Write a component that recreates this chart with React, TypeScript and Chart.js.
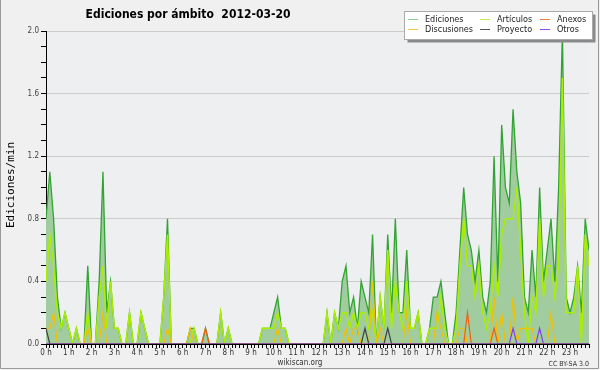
import React, { useEffect, useRef } from 'react';
import { Chart, registerables } from 'chart.js';

Chart.register(...registerables);

// ---- data (10-minute slots, 6 per hour, 144 per day) ----
const HOUR_LABELS = [
  '0 h', '1 h', '2 h', '3 h', '4 h', '5 h', '6 h', '7 h', '8 h', '9 h', '10 h', '11 h',
  '12 h', '13 h', '14 h', '15 h', '16 h', '17 h', '18 h', '19 h', '20 h', '21 h', '22 h', '23 h',
];
const Y_MAJOR = [0, 0.4, 0.8, 1.2, 1.6, 2.0];

const ediciones = [
  0.8, 1.1, 0.8, 0.3, 0.1, 0.2, // 0h
  0.1, 0, 0.1, 0, 0, 0.5, // 1h
  0, 0, 0.4, 1.1, 0.2, 0.4, // 2h
  0.1, 0.1, 0, 0, 0.2, 0, // 3h
  0, 0.2, 0.1, 0, 0, 0, // 4h
  0, 0.3, 0.8, 0, 0, 0, // 5h
  0, 0, 0.1, 0.1, 0, 0, // 6h
  0.1, 0, 0, 0, 0.2, 0, // 7h
  0.1, 0, 0, 0, 0, 0, // 8h
  0, 0, 0, 0.1, 0.1, 0.1, // 9h
  0.2, 0.3, 0.1, 0.1, 0, 0, // 10h
  0, 0, 0, 0, 0, 0, // 11h
  0, 0, 0.2, 0, 0.2, 0.1, // 12h
  0.4, 0.5, 0.2, 0.3, 0.1, 0.4, // 13h
  0.3, 0.2, 0.7, 0, 0.3, 0.1, // 14h
  0.7, 0.2, 0.8, 0.2, 0.2, 0.6, // 15h
  0.1, 0.1, 0.2, 0, 0, 0.1, // 16h
  0.3, 0.3, 0.4, 0.2, 0, 0, // 17h
  0.2, 0.6, 1.0, 0.7, 0.6, 0.4, // 18h
  0.6, 0.3, 0.2, 0.4, 1.2, 0.4, // 19h
  1.4, 1.0, 0.9, 1.5, 1.1, 0.9, // 20h
  0.3, 0.2, 0.6, 0.3, 1.0, 0.4, // 21h
  0.6, 0.8, 0.4, 1.0, 2.0, 0.3, // 22h
  0.2, 0.3, 0.5, 0.2, 0.8, 0.6, // 23h
];

const articulos = [
  0.4, 0.7, 0.5, 0.2, 0.1, 0.2,
  0.1, 0, 0.1, 0, 0, 0.2,
  0, 0, 0.3, 0.5, 0.1, 0.4,
  0.1, 0.1, 0, 0, 0.2, 0,
  0, 0.2, 0.1, 0, 0, 0,
  0, 0.3, 0.7, 0, 0, 0,
  0, 0, 0, 0.1, 0, 0,
  0, 0, 0, 0, 0.2, 0,
  0.1, 0, 0, 0, 0, 0,
  0, 0, 0, 0.1, 0.1, 0.1,
  0.1, 0.2, 0.1, 0.1, 0, 0,
  0, 0, 0, 0, 0, 0,
  0, 0, 0.2, 0, 0.2, 0.1,
  0.2, 0.2, 0.1, 0.2, 0.1, 0.2,
  0.2, 0.1, 0.2, 0, 0.3, 0.1,
  0.6, 0.1, 0.4, 0.2, 0.1, 0.4,
  0.1, 0.1, 0.2, 0, 0, 0.1,
  0.1, 0.1, 0.3, 0.1, 0, 0,
  0.1, 0.5, 0.8, 0.5, 0.5, 0.3,
  0.5, 0.2, 0.1, 0.2, 0.5, 0.3,
  0.7, 0.8, 0.8, 0.8, 1.0, 0.6,
  0.2, 0, 0.3, 0.2, 0.8, 0.3,
  0.5, 0.5, 0.3, 0.5, 1.7, 0.2,
  0.2, 0.2, 0.5, 0, 0.7, 0.5,
];

const discusiones = [
  0.1, 0.1, 0.2, 0, 0, 0,
  0, 0, 0, 0, 0, 0.1,
  0, 0, 0, 0.2, 0, 0,
  0, 0, 0, 0, 0, 0,
  0, 0, 0, 0, 0, 0,
  0, 0, 0.1, 0, 0, 0,
  0, 0, 0.1, 0, 0, 0,
  0, 0, 0, 0, 0, 0,
  0, 0, 0, 0, 0, 0,
  0, 0, 0, 0, 0, 0,
  0, 0.1, 0, 0, 0, 0,
  0, 0, 0, 0, 0, 0,
  0, 0, 0, 0, 0, 0,
  0, 0.1, 0, 0.1, 0.1, 0,
  0, 0, 0.4, 0, 0.1, 0,
  0, 0, 0, 0, 0, 0.2,
  0, 0, 0, 0, 0, 0,
  0, 0.2, 0.1, 0, 0, 0,
  0, 0.1, 0.1, 0, 0, 0,
  0, 0, 0, 0, 0.3, 0,
  0.2, 0, 0, 0.3, 0, 0.1,
  0.1, 0.1, 0.1, 0, 0, 0,
  0, 0.2, 0, 0, 0, 0,
  0, 0, 0, 0, 0, 0,
];

const proyecto = [
  0.1, 0, 0, 0, 0, 0,
  0, 0, 0, 0, 0, 0,
  0, 0, 0, 0, 0, 0,
  0, 0, 0, 0, 0, 0,
  0, 0, 0, 0, 0, 0,
  0, 0, 0, 0, 0, 0,
  0, 0, 0, 0, 0, 0,
  0, 0, 0, 0, 0, 0,
  0, 0, 0, 0, 0, 0,
  0, 0, 0, 0, 0, 0,
  0, 0, 0, 0, 0, 0,
  0, 0, 0, 0, 0, 0,
  0, 0, 0, 0, 0, 0,
  0, 0, 0, 0, 0, 0,
  0.1, 0, 0, 0, 0, 0,
  0.1, 0, 0, 0, 0, 0,
  0, 0, 0, 0, 0, 0,
  0, 0, 0, 0, 0, 0,
  0, 0, 0, 0, 0, 0,
  0, 0, 0, 0, 0, 0,
  0, 0, 0, 0, 0, 0,
  0, 0, 0, 0, 0, 0,
  0, 0, 0, 0, 0, 0,
  0, 0, 0, 0, 0, 0,
];

const anexos = [
  0, 0, 0, 0, 0, 0,
  0, 0, 0, 0, 0, 0,
  0, 0, 0, 0, 0, 0,
  0, 0, 0, 0, 0, 0,
  0, 0, 0, 0, 0, 0,
  0, 0, 0, 0, 0, 0,
  0, 0, 0, 0, 0, 0,
  0.1, 0, 0, 0, 0, 0,
  0, 0, 0, 0, 0, 0,
  0, 0, 0, 0, 0, 0,
  0, 0, 0, 0, 0, 0,
  0, 0, 0, 0, 0, 0,
  0, 0, 0, 0, 0, 0,
  0, 0, 0, 0, 0, 0,
  0, 0, 0, 0, 0, 0,
  0, 0, 0, 0, 0, 0,
  0, 0, 0, 0, 0, 0,
  0, 0, 0, 0, 0, 0,
  0, 0, 0, 0.2, 0, 0,
  0, 0, 0, 0, 0.1, 0,
  0, 0, 0, 0, 0, 0,
  0, 0, 0, 0, 0, 0,
  0, 0, 0, 0, 0, 0,
  0, 0, 0, 0, 0, 0,
];

const otros = [
  0, 0, 0, 0, 0, 0,
  0, 0, 0, 0, 0, 0,
  0, 0, 0, 0, 0, 0,
  0, 0, 0, 0, 0, 0,
  0, 0, 0, 0, 0, 0,
  0, 0, 0, 0, 0, 0,
  0, 0, 0, 0, 0, 0,
  0, 0, 0, 0, 0, 0,
  0, 0, 0, 0, 0, 0,
  0, 0, 0, 0, 0, 0,
  0, 0, 0, 0, 0, 0,
  0, 0, 0, 0, 0, 0,
  0, 0, 0, 0, 0, 0,
  0, 0, 0, 0, 0, 0,
  0, 0, 0, 0, 0, 0,
  0, 0, 0, 0, 0, 0,
  0, 0, 0, 0, 0, 0,
  0, 0, 0, 0, 0, 0,
  0, 0, 0, 0, 0, 0,
  0, 0, 0, 0, 0, 0,
  0, 0, 0, 0.1, 0, 0,
  0, 0, 0, 0, 0.1, 0,
  0, 0, 0, 0, 0, 0,
  0, 0, 0, 0, 0, 0,
];

const TITLE = 'Ediciones por ámbito  2012-03-20';
const Y_TITLE = 'Ediciones/min';
const FOOTER = 'wikiscan.org';
const LICENSE = 'CC BY-SA 3.0';

const C_EDIT_LINE = '#33a333';
const C_EDIT_FILL = '#a0cca0';
const C_ART = '#aaee00';
const C_DISC = '#f2c000';
const C_ANEX = '#f06010';
const C_PROY = '#404040';
const C_OTROS = '#8040f0';

const LEGEND = [
  { label: 'Ediciones', color: '#86cc86' },
  { label: 'Discusiones', color: '#f4cc40' },
  { label: 'Artículos', color: '#c4ee40' },
  { label: 'Proyecto', color: '#555555' },
  { label: 'Anexos', color: '#f08048' },
  { label: 'Otros', color: '#9050f0' },
];

const SANS = '"DejaVu Sans Condensed", "DejaVu Sans", sans-serif';

const isMajorY = (v: number) => Math.abs(v / 0.4 - Math.round(v / 0.4)) < 1e-6;
const toPoints = (arr: number[]) => arr.map((y, x) => ({ x, y }));

const decorPlugin = {
  id: 'decor',
  beforeDraw(chart: any) {
    const { ctx, chartArea } = chart;
    ctx.save();
    ctx.fillStyle = '#f0f0f0';
    ctx.fillRect(0, 0, chart.width, chart.height);
    ctx.fillStyle = '#eeeff1';
    ctx.fillRect(chartArea.left, chartArea.top, chartArea.right - chartArea.left, chartArea.bottom - chartArea.top);
    ctx.restore();
  },
  afterDraw(chart: any) {
    const { ctx } = chart;
    ctx.save();
    // title
    ctx.fillStyle = '#000';
    ctx.font = `bold 12px ${SANS}`;
    ctx.textAlign = 'center';
    ctx.textBaseline = 'alphabetic';
    ctx.fillText(TITLE, 188, 18);

    // y title
    ctx.save();
    ctx.translate(11, 185);
    ctx.rotate(-Math.PI / 2);
    ctx.font = '11px "DejaVu Sans Mono", monospace';
    ctx.textAlign = 'center';
    ctx.textBaseline = 'middle';
    ctx.fillText(Y_TITLE, 0, 0);
    ctx.restore();

    // legend box
    const bx = 404.5, by = 11.5, bw = 188, bh = 28;
    ctx.fillStyle = '#8a8a8a';
    ctx.fillRect(bx + 3, by + 3, bw, bh);
    ctx.fillStyle = '#ffffff';
    ctx.fillRect(bx, by, bw, bh);
    ctx.strokeStyle = '#aaaaaa';
    ctx.lineWidth = 1;
    ctx.strokeRect(bx, by, bw, bh);
    ctx.font = `9px ${SANS}`;
    ctx.textAlign = 'left';
    ctx.textBaseline = 'middle';
    const colX = [408, 480, 540];
    const rowY = [19.5, 29.5];
    LEGEND.forEach((item, k) => {
      const col = Math.floor(k / 2);
      const row = k % 2;
      const x = colX[col];
      const y = rowY[row];
      ctx.strokeStyle = item.color;
      ctx.beginPath();
      ctx.moveTo(x, y);
      ctx.lineTo(x + 10, y);
      ctx.stroke();
      ctx.fillStyle = '#222';
      ctx.fillText(item.label, x + 17, y + 0.5);
    });

    // footer
    ctx.fillStyle = '#333';
    ctx.font = `8px ${SANS}`;
    ctx.textAlign = 'center';
    ctx.textBaseline = 'alphabetic';
    ctx.fillText(FOOTER, 300, 365);
    ctx.font = `7px ${SANS}`;
    ctx.textAlign = 'right';
    ctx.fillText(LICENSE, 589, 366);

    // frame
    ctx.strokeStyle = '#999';
    ctx.beginPath();
    ctx.moveTo(0.5, 0);
    ctx.lineTo(0.5, 368.5);
    ctx.lineTo(598.5, 368.5);
    ctx.lineTo(598.5, 0);
    ctx.stroke();
    ctx.restore();
  },
};

export default function App() {
  const ref = useRef<HTMLCanvasElement | null>(null);
  useEffect(() => {
    if (!ref.current) return;
    const chart = new Chart(ref.current, {
      type: 'line',
      data: {
        datasets: [
          { label: 'Otros', data: toPoints(otros), borderColor: C_OTROS, borderWidth: 1.2, order: 1 },
          { label: 'Proyecto', data: toPoints(proyecto), borderColor: C_PROY, borderWidth: 1.2, order: 2 },
          { label: 'Anexos', data: toPoints(anexos), borderColor: C_ANEX, borderWidth: 1.2, order: 3 },
          { label: 'Discusiones', data: toPoints(discusiones), borderColor: C_DISC, borderWidth: 1.2, order: 4 },
          { label: 'Artículos', data: toPoints(articulos), borderColor: C_ART, borderWidth: 1.5, order: 5 },
          {
            label: 'Ediciones', data: toPoints(ediciones), borderColor: C_EDIT_LINE, borderWidth: 1.3,
            backgroundColor: C_EDIT_FILL, fill: 'origin', order: 6,
          },
        ],
      },
      options: {
        responsive: false,
        animation: false,
        events: [],
        layout: { padding: { top: 31, right: 11, left: 0, bottom: 0 } },
        elements: { point: { radius: 0 }, line: { tension: 0 } },
        plugins: { legend: { display: false }, tooltip: { enabled: false }, title: { display: false } },
        scales: {
          x: {
            type: 'linear',
            min: 0,
            max: 143,
            afterFit: (s: any) => { s.height = 26; },
            ticks: {
              stepSize: 1,
              autoSkip: false,
              maxRotation: 0,
              minRotation: 0,
              padding: 0,
              color: '#333',
              font: { family: SANS, size: 8 },
              callback: (v: any) => (Number.isInteger(v) && v % 6 === 0 ? HOUR_LABELS[v / 6] : ''),
            },
            grid: { drawOnChartArea: false, drawTicks: true, tickLength: 4, tickColor: '#000' },
            border: { color: '#000', width: 1 },
          },
          y: {
            min: 0,
            max: 2.0,
            afterFit: (s: any) => { s.width = 46; },
            ticks: {
              stepSize: 0.1,
              autoSkip: false,
              padding: 2,
              color: '#444',
              font: { family: SANS, size: 8 },
              callback: (v: any) => (isMajorY(v) && Y_MAJOR.some((m) => Math.abs(m - v) < 1e-6) ? Number(v).toFixed(1) : ''),
            },
            grid: {
              color: (c: any) => (isMajorY(c.tick.value) ? '#cccccc' : 'rgba(0,0,0,0)'),
              tickColor: '#000',
              tickLength: 5,
              drawTicks: true,
            },
            border: { color: '#000', width: 1 },
          },
        },
      },
      plugins: [decorPlugin],
    } as any);
    return () => chart.destroy();
  }, []);
  return (
    <div style={{ position: 'absolute', left: 0, top: 0, width: 600, height: 370 }}>
      <canvas ref={ref} width={600} height={370} style={{ width: 600, height: 370, display: 'block' }} />
    </div>
  );
}
